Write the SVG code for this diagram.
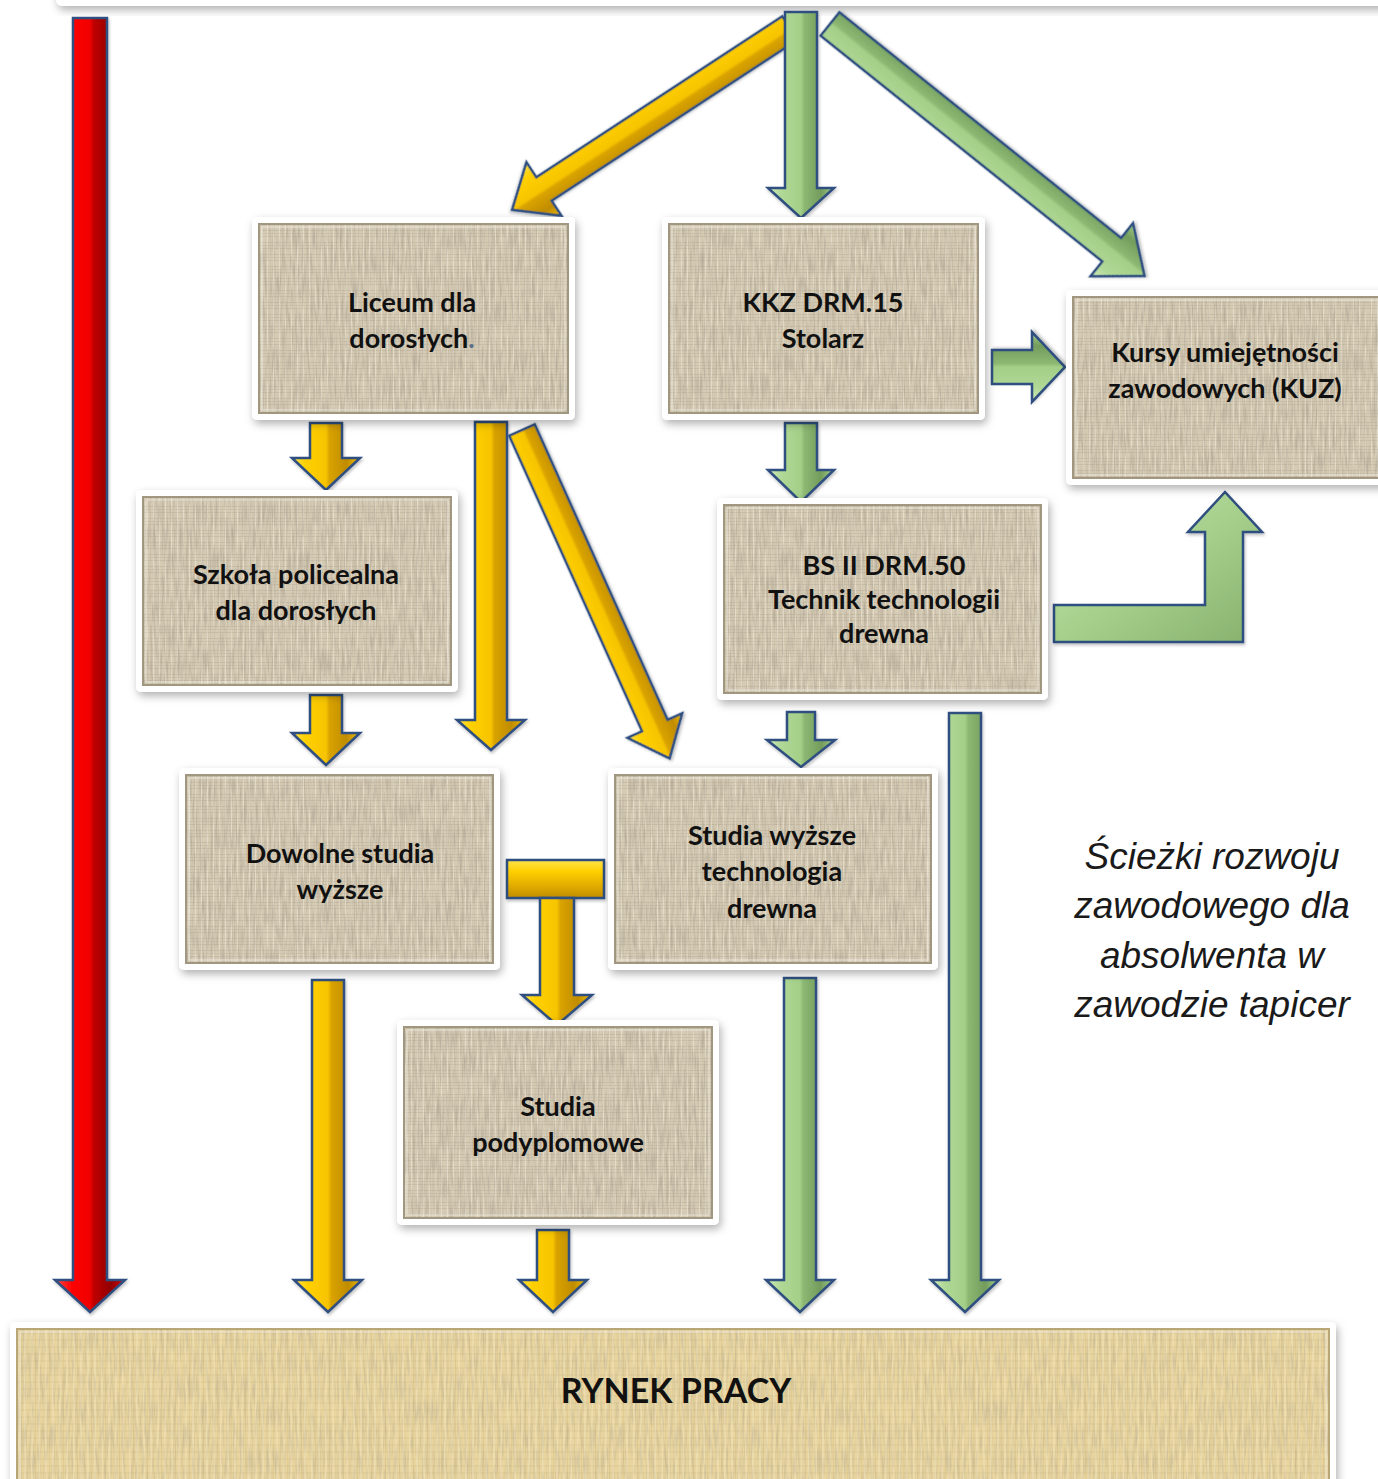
<svg xmlns="http://www.w3.org/2000/svg" width="1378" height="1479" viewBox="0 0 1378 1479">
<defs>
  <filter id="sh" x="-10%" y="-10%" width="120%" height="130%">
    <feDropShadow dx="2" dy="4" stdDeviation="4" flood-color="#000" flood-opacity="0.3"/>
  </filter>
  <filter id="ash" x="-20%" y="-20%" width="140%" height="140%">
    <feDropShadow dx="1" dy="2" stdDeviation="1.5" flood-color="#000" flood-opacity="0.25"/>
  </filter>
  <filter id="grain" x="0" y="0" width="100%" height="100%">
    <feTurbulence type="fractalNoise" baseFrequency="0.45 0.04" numOctaves="2" seed="3" result="n"/>
    <feColorMatrix in="n" type="matrix" values="0 0 0 0 0.4  0 0 0 0 0.35  0 0 0 0 0.27  0 0 0 -1.4 0.85" result="c"/>
    <feComposite in="c" in2="SourceGraphic" operator="in"/>
  </filter>
  <pattern id="linen" width="12" height="12" patternUnits="userSpaceOnUse">
    <rect width="12" height="12" fill="#d6ccb6"/>
    <path d="M0 2.5H12M0 8.5H12" stroke="#c0b59d" stroke-width="1" opacity="0.7"/>
    <path d="M3.5 0V12M9.5 0V12" stroke="#e8e0cf" stroke-width="1" opacity="0.7"/>
    <path d="M0 5.5H12" stroke="#b5aa91" stroke-width="0.6" opacity="0.5"/>
    <path d="M6.5 0V12" stroke="#c7bca5" stroke-width="0.6" opacity="0.6"/>
  </pattern>
  <pattern id="papyrus" width="14" height="14" patternUnits="userSpaceOnUse">
    <rect width="14" height="14" fill="#e8d59f"/>
    <path d="M0 3H14M0 10H14" stroke="#d9c288" stroke-width="1" opacity="0.7"/>
    <path d="M4 0V14M11 0V14" stroke="#f2e5be" stroke-width="1.2" opacity="0.7"/>
    <path d="M7.5 0V14" stroke="#d3ba7e" stroke-width="0.7" opacity="0.5"/>
  </pattern>
  <linearGradient id="gy" x1="0" y1="0" x2="1" y2="0">
    <stop offset="0" stop-color="#ffe34d"/>
    <stop offset="0.2" stop-color="#ffd000"/>
    <stop offset="0.5" stop-color="#f7c400"/>
    <stop offset="0.55" stop-color="#d9a300"/>
    <stop offset="0.8" stop-color="#c08c00"/>
    <stop offset="1" stop-color="#f2bd00"/>
  </linearGradient>
  <linearGradient id="gyv" x1="0" y1="0" x2="0" y2="1">
    <stop offset="0" stop-color="#ffe34d"/>
    <stop offset="0.3" stop-color="#ffd000"/>
    <stop offset="0.7" stop-color="#e0aa00"/>
    <stop offset="1" stop-color="#c08c00"/>
  </linearGradient>
  <linearGradient id="gg" x1="0" y1="0" x2="1" y2="0">
    <stop offset="0" stop-color="#d3ecbf"/>
    <stop offset="0.2" stop-color="#b0d896"/>
    <stop offset="0.5" stop-color="#a3cf88"/>
    <stop offset="0.55" stop-color="#8cb873"/>
    <stop offset="0.8" stop-color="#739c5c"/>
    <stop offset="1" stop-color="#a6d08c"/>
  </linearGradient>
  <linearGradient id="ggd" x1="0" y1="0" x2="1" y2="1">
    <stop offset="0" stop-color="#c8e6b2"/>
    <stop offset="0.5" stop-color="#a6d08c"/>
    <stop offset="1" stop-color="#86b06c"/>
  </linearGradient>
  <linearGradient id="gr" x1="0" y1="0" x2="1" y2="0">
    <stop offset="0" stop-color="#ff4a4a"/>
    <stop offset="0.25" stop-color="#ff0000"/>
    <stop offset="0.5" stop-color="#f00000"/>
    <stop offset="0.55" stop-color="#c00000"/>
    <stop offset="0.8" stop-color="#900000"/>
    <stop offset="1" stop-color="#e00000"/>
  </linearGradient>
</defs>
<style>
  .frame { fill: #ffffff; filter: url(#sh); }
  .inner { fill: url(#linen); stroke: #a1967f; stroke-width: 2; }
  .grain { fill: #fff; filter: url(#grain); }
  .bev { fill: none; stroke: #f0ebe0; stroke-width: 1.5; opacity: 0.6; }
  .lbl { font-family: Lato, "Liberation Sans", sans-serif; font-weight: bold; font-size: 27px; fill: #111; text-anchor: middle; }
  .big { font-size: 34px; }
  .it { font-family: "Liberation Sans", Arial, sans-serif; font-style: italic; font-size: 37px; fill: #1a1a1a; text-anchor: middle; }
  .ya { fill: url(#gy); stroke: #2f4f80; stroke-width: 2.5; stroke-linejoin: miter; filter: url(#ash); }
  .yav { fill: url(#gyv); stroke: #2f4f80; stroke-width: 2.5; filter: url(#ash); }
  .ga { fill: url(#gg); stroke: #2f4f80; stroke-width: 2.5; stroke-linejoin: miter; filter: url(#ash); }
  .gad { fill: url(#ggd); stroke: #2f4f80; stroke-width: 2.5; filter: url(#ash); }
  .ra { fill: url(#gr); stroke: #2f4f80; stroke-width: 2.5; filter: url(#ash); }
</style>
<rect width="1378" height="1479" fill="#ffffff"/>

<!-- top cut-off frame -->
<g id="top-frame">
  <rect class="frame" x="56" y="-40" width="1340" height="46" rx="6"/>
</g>

<g id="connectors">
  <path class="ra" d="M73 18 H107 V1280 H125 L90 1312 L55 1280 H73 Z"/>
  <path class="ya" transform="translate(790,28) rotate(56.8)" d="M-14 0 H14 V294 H32 L0 332 L-32 294 H-14 Z"/>
  <path class="ga" transform="translate(830,24) rotate(-51.3)" d="M-15 0 H15 V361 H34 L0 403 L-34 361 H-15 Z"/>
  <path class="ga" d="M785 12 H817 V188 H834 L801 218 L768 188 H785 Z"/>
  <path class="ya" d="M310 423 H342 V458 H360 L326 490 L292 458 H310 Z"/>
  <path class="ya" d="M475 422 H507 V720 H525 L491 750 L457 720 H475 Z"/>
  <path class="ya" transform="translate(522,430) rotate(-24.2)" d="M-14 0 H14 V324 H30 L0 360 L-30 324 H-14 Z"/>
  <path class="ga" transform="translate(992,367) rotate(-90)" d="M-17 0 H17 V40 H35 L0 73 L-35 40 H-17 Z"/>
  <path class="ga" d="M785 423 H817 V470 H834 L801 502 L768 470 H785 Z"/>
  <path class="gad" d="M1054 605 H1205 V532 H1188 L1225 492 L1262 532 H1243 V642 H1054 Z"/>
  <path class="ya" d="M310 695 H342 V733 H360 L326 765 L292 733 H310 Z"/>
  <path class="ga" d="M787 712 H815 V740 H835 L801 767 L767 740 H787 Z"/>
  <path class="ga" d="M949 713 H981 V1280 H999 L965 1312 L931 1280 H949 Z"/>
  <rect class="yav" x="507" y="860" width="97" height="38"/>
  <path class="ya" d="M540 898 H574 V995 H592 L557 1025 L522 995 H540 Z"/>
  <path class="ya" d="M312 980 H344 V1280 H362 L328 1312 L294 1280 H312 Z"/>
  <path class="ya" d="M537 1230 H569 V1280 H587 L553 1312 L519 1280 H537 Z"/>
  <path class="ga" d="M784 978 H816 V1280 H834 L800 1312 L766 1280 H784 Z"/>
</g>

<g id="liceum">
  <rect class="frame" x="252" y="217" width="323" height="203" rx="5"/>
  <rect class="inner" x="259" y="224" width="309" height="189"/>
  <rect class="grain" x="260" y="225" width="307" height="187"/>
  <rect class="bev" x="262" y="227" width="303" height="183"/>
  <text class="lbl" x="412" y="312">Liceum dla</text>
  <text class="lbl" x="412" y="348">dorosłych<tspan fill="#5a6f8a">.</tspan></text>
</g>

<g id="kkz">
  <rect class="frame" x="662" y="217" width="323" height="203" rx="5"/>
  <rect class="inner" x="669" y="224" width="309" height="189"/>
  <rect class="grain" x="670" y="225" width="307" height="187"/>
  <rect class="bev" x="672" y="227" width="303" height="183"/>
  <text class="lbl" x="823" y="312">KKZ DRM.15</text>
  <text class="lbl" x="823" y="348">Stolarz</text>
</g>

<g id="kursy">
  <rect class="frame" x="1066" y="290" width="330" height="195" rx="5"/>
  <rect class="inner" x="1073" y="297" width="320" height="181"/>
  <rect class="grain" x="1074" y="298" width="318" height="179"/>
  <rect class="bev" x="1076" y="300" width="314" height="175"/>
  <text class="lbl" x="1225" y="362">Kursy umiejętności</text>
  <text class="lbl" x="1225" y="398">zawodowych (KUZ)</text>
</g>

<g id="szkola">
  <rect class="frame" x="136" y="490" width="322" height="202" rx="5"/>
  <rect class="inner" x="143" y="497" width="308" height="188"/>
  <rect class="grain" x="144" y="498" width="306" height="186"/>
  <rect class="bev" x="146" y="500" width="302" height="182"/>
  <text class="lbl" x="296" y="584">Szkoła policealna</text>
  <text class="lbl" x="296" y="620">dla dorosłych</text>
</g>

<g id="bs2">
  <rect class="frame" x="717" y="498" width="331" height="202" rx="5"/>
  <rect class="inner" x="724" y="505" width="317" height="188"/>
  <rect class="grain" x="725" y="506" width="315" height="186"/>
  <rect class="bev" x="727" y="508" width="311" height="182"/>
  <text class="lbl" x="884" y="575">BS II DRM.50</text>
  <text class="lbl" x="884" y="609">Technik technologii</text>
  <text class="lbl" x="884" y="643">drewna</text>
</g>

<g id="dowolne">
  <rect class="frame" x="179" y="768" width="321" height="202" rx="5"/>
  <rect class="inner" x="186" y="775" width="307" height="188"/>
  <rect class="grain" x="187" y="776" width="305" height="186"/>
  <rect class="bev" x="189" y="778" width="301" height="182"/>
  <text class="lbl" x="340" y="863">Dowolne studia</text>
  <text class="lbl" x="340" y="899">wyższe</text>
</g>

<g id="studia-tech">
  <rect class="frame" x="608" y="768" width="330" height="202" rx="5"/>
  <rect class="inner" x="615" y="775" width="316" height="188"/>
  <rect class="grain" x="616" y="776" width="314" height="186"/>
  <rect class="bev" x="618" y="778" width="310" height="182"/>
  <text class="lbl" x="772" y="845">Studia wyższe</text>
  <text class="lbl" x="772" y="881">technologia</text>
  <text class="lbl" x="772" y="918">drewna</text>
</g>

<g id="podyplomowe">
  <rect class="frame" x="397" y="1020" width="322" height="205" rx="5"/>
  <rect class="inner" x="404" y="1027" width="308" height="191"/>
  <rect class="grain" x="405" y="1028" width="306" height="189"/>
  <rect class="bev" x="407" y="1030" width="302" height="185"/>
  <text class="lbl" x="558" y="1116">Studia</text>
  <text class="lbl" x="558" y="1152">podyplomowe</text>
</g>

<g id="rynek">
  <rect class="frame" x="10" y="1322" width="1326" height="180" rx="5"/>
  <rect x="17" y="1329" width="1312" height="160" fill="url(#papyrus)" stroke="#b9a677" stroke-width="2"/>
  <rect class="grain" x="18" y="1330" width="1310" height="158" opacity="0.6"/>
  <rect class="bev" x="20" y="1332" width="1306" height="154"/>
  <text class="lbl big" x="676" y="1403">RYNEK PRACY</text>
</g>

<g id="caption">
  <text class="it" x="1212" y="869">Ścieżki rozwoju</text>
  <text class="it" x="1212" y="918">zawodowego dla</text>
  <text class="it" x="1212" y="968">absolwenta w</text>
  <text class="it" x="1212" y="1017">zawodzie tapicer</text>
</g>
</svg>
